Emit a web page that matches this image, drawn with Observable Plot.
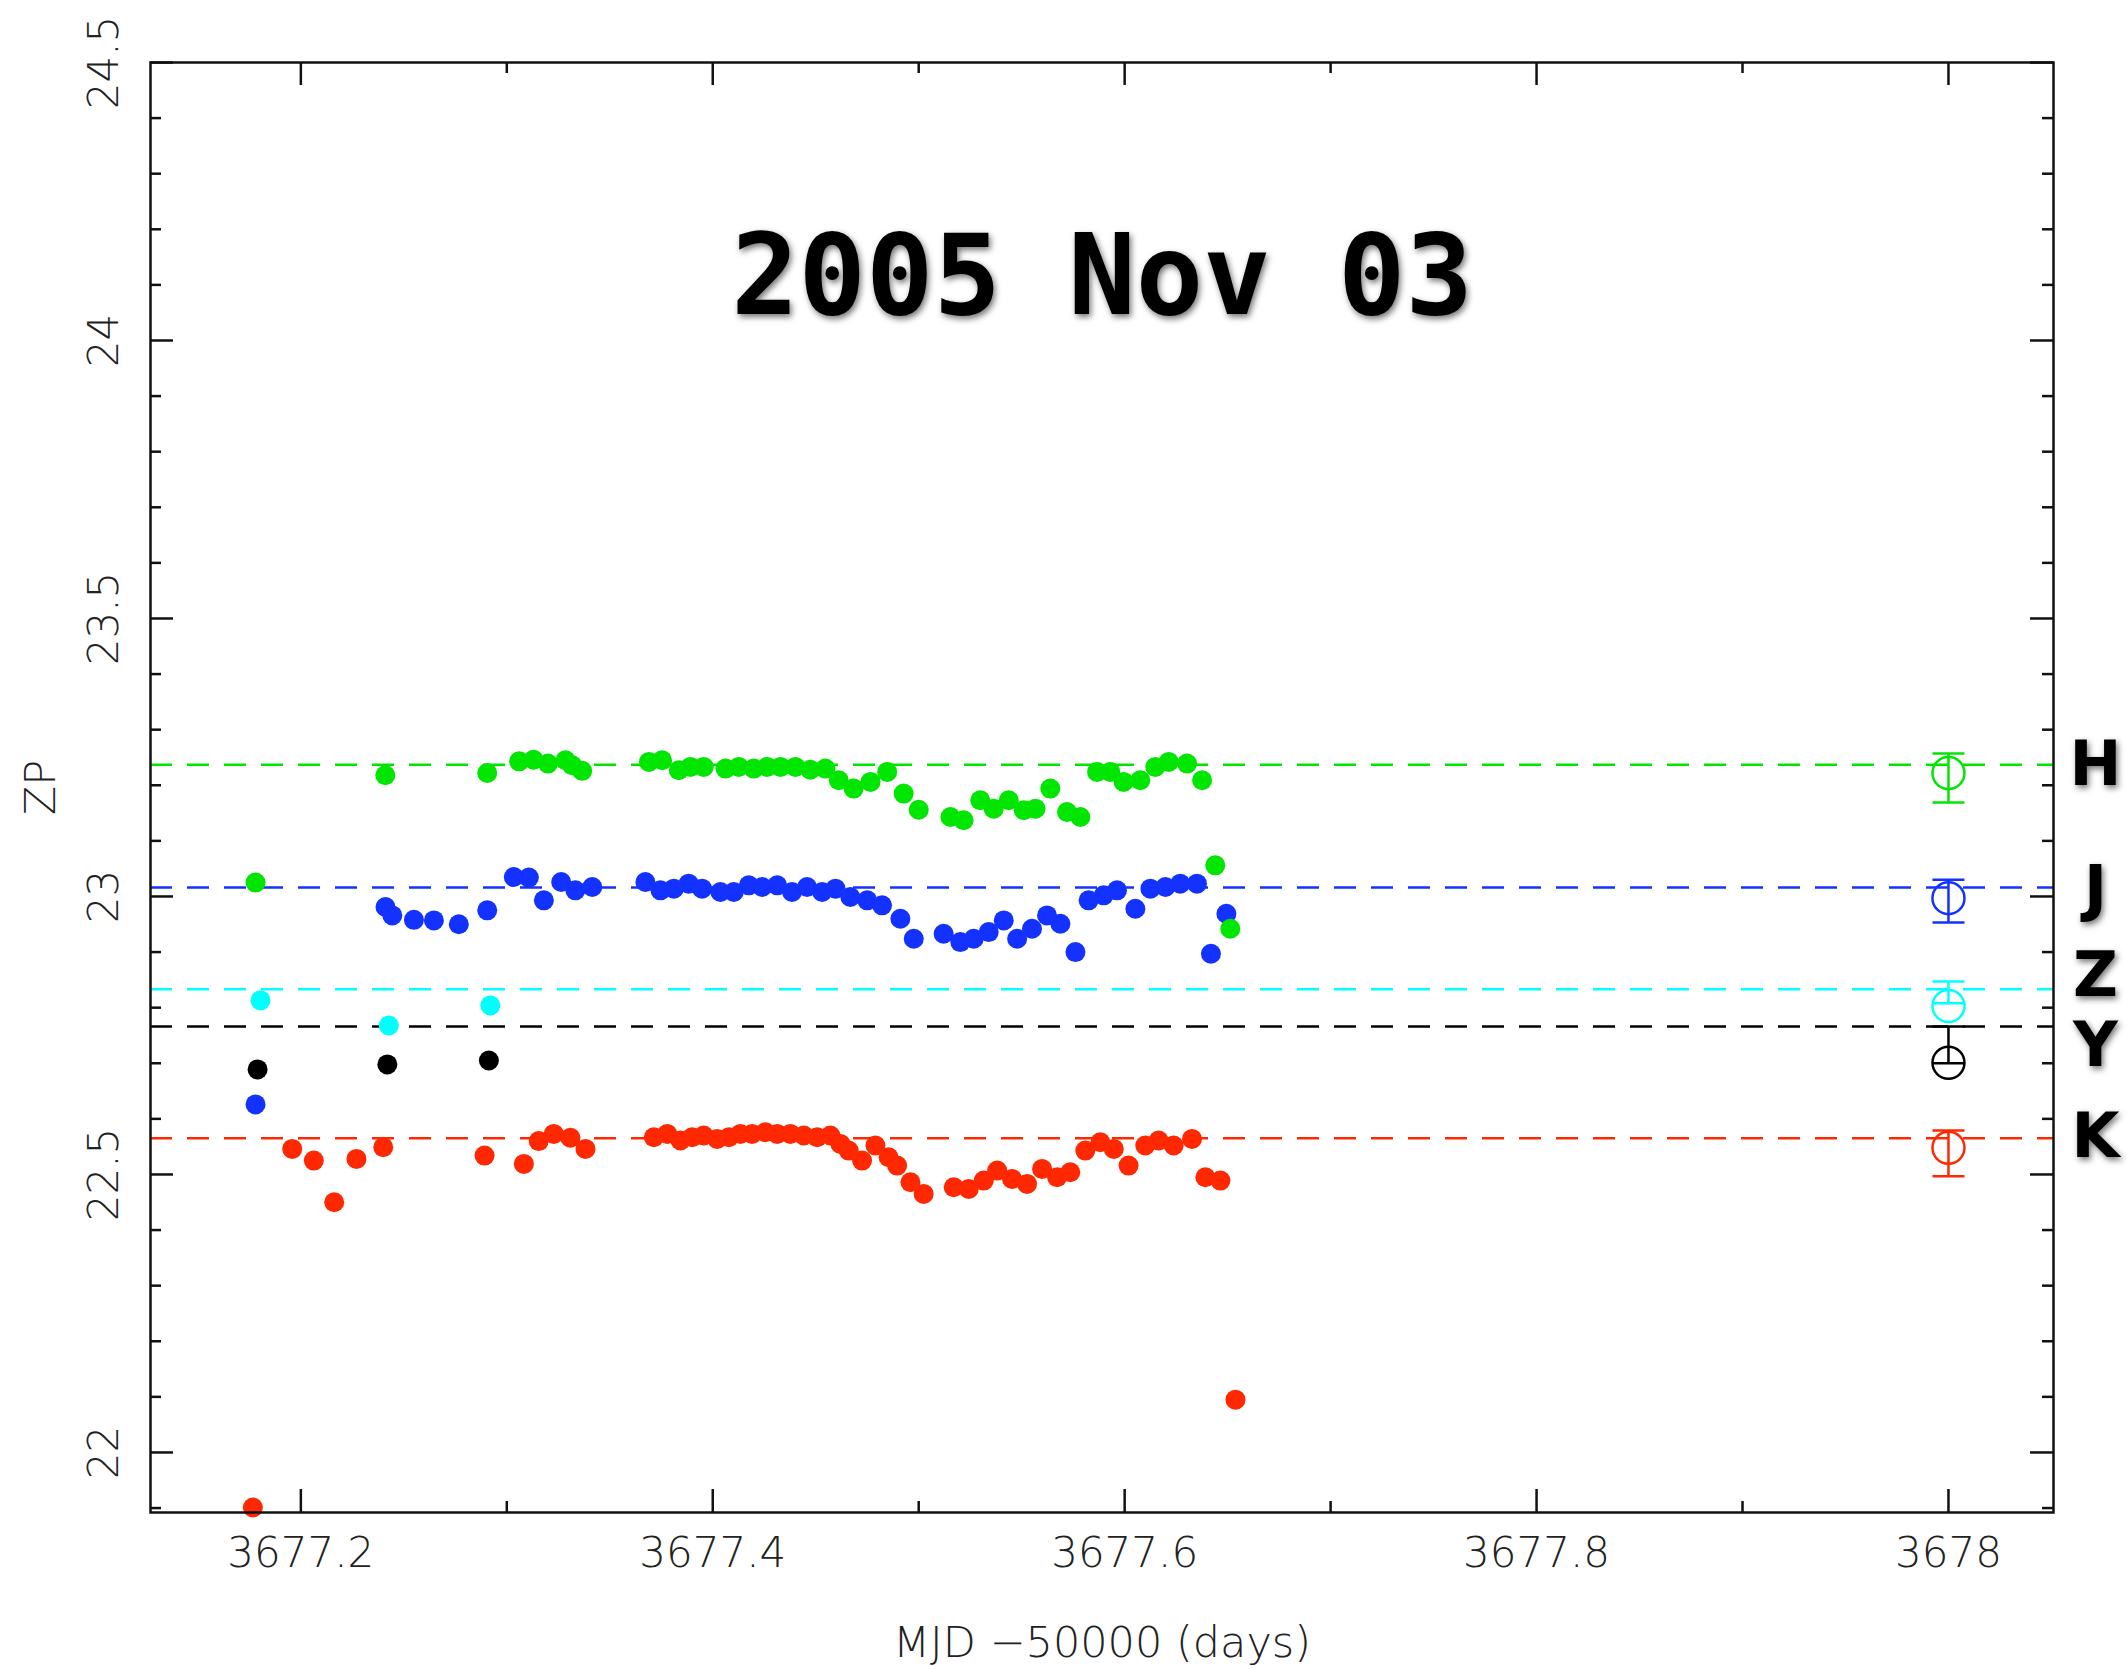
<!DOCTYPE html>
<html><head><meta charset="utf-8">
<script src="https://cdn.jsdelivr.net/npm/d3@7"></script>
<script src="https://cdn.jsdelivr.net/npm/@observablehq/plot@0.6"></script>
<style>body{margin:0;background:#fff;} svg{display:block;}</style>
</head><body><div id="chart"></div>
<script>
// ---------- data ----------
const title = "2005 Nov 03";
const xLabel = "MJD \u221250000 (days)";
const yLabel = "ZP";
const xDomain = [3677.127, 3678.051];
const yDomain = [21.892, 24.5];
const xMajorTicks = [3677.2, 3677.4, 3677.6, 3677.8, 3678];
const xMinorTicks = [3677.3, 3677.5, 3677.7, 3677.9];
const yMajorTicks = [22, 22.5, 23, 23.5, 24, 24.5];
const yMinorTicks = [21.9, 22.1, 22.2, 22.3, 22.4, 22.6, 22.7, 22.8, 22.9, 23.1, 23.2, 23.3, 23.4,
                     23.6, 23.7, 23.8, 23.9, 24.1, 24.2, 24.3, 24.4];

const bands = ["H", "J", "Z", "Y", "K"];
const bandColors = ["#00e600", "#1432ff", "#00ffff", "#000000", "#ff2800"];
const nightZP = [23.237, 23.016, 22.833, 22.766, 22.565];   // dashed reference lines
const summaryMJD = 3678;
const meanZP = [23.222, 22.997, 22.803, 22.701, 22.548];
const errLowZP = [23.169, 22.953, 22.808, 22.700, 22.497];
const errHighZP = [23.257, 23.030, 22.847, 22.766, 22.579];
const labelZP = [23.237, 23.013, 22.857, 22.730, 22.568];

const hMJD = [3677.178, 3677.241, 3677.2905, 3677.306, 3677.313, 3677.320, 3677.3285, 3677.3317, 3677.3366,
  3677.369, 3677.3754, 3677.3835, 3677.3892, 3677.3956, 3677.4062, 3677.4126, 3677.4199, 3677.4264, 3677.4329,
  3677.4401, 3677.4474, 3677.4547, 3677.4612, 3677.4684, 3677.4766, 3677.4847, 3677.4927, 3677.500, 3677.5154,
  3677.5218, 3677.5299, 3677.5364, 3677.5437, 3677.551, 3677.5567, 3677.5639, 3677.572, 3677.5785, 3677.5866,
  3677.593, 3677.5995, 3677.6076, 3677.6149, 3677.6214, 3677.6303, 3677.6376, 3677.644, 3677.6513];
const hZP = [23.025, 23.218, 23.222, 23.243, 23.246, 23.239, 23.245, 23.236, 23.226,
  23.242, 23.245, 23.227, 23.233, 23.233, 23.230, 23.233, 23.230, 23.233, 23.233,
  23.233, 23.228, 23.230, 23.209, 23.194, 23.206, 23.224, 23.185, 23.156, 23.143,
  23.137, 23.173, 23.158, 23.173, 23.155, 23.158, 23.194, 23.152, 23.143, 23.224,
  23.224, 23.206, 23.209, 23.233, 23.242, 23.239, 23.209, 23.056, 22.942];

const jMJD = [3677.178, 3677.2411, 3677.2444, 3677.2549, 3677.2646, 3677.2767, 3677.2905, 3677.3034, 3677.3107,
  3677.318, 3677.3264, 3677.3333, 3677.3415, 3677.3673, 3677.3746, 3677.3811, 3677.3883, 3677.3948, 3677.4037,
  3677.4102, 3677.4175, 3677.424, 3677.4313, 3677.4385, 3677.4458, 3677.4531, 3677.4596, 3677.4668, 3677.475,
  3677.4822, 3677.4911, 3677.4976, 3677.5121, 3677.5202, 3677.5267, 3677.534, 3677.5413, 3677.5478, 3677.555,
  3677.5623, 3677.5688, 3677.5761, 3677.5825, 3677.5898, 3677.5963, 3677.6052, 3677.6125, 3677.6198, 3677.627,
  3677.6351, 3677.6419, 3677.6494];
const jZP = [22.626, 22.981, 22.966, 22.958, 22.957, 22.950, 22.975, 23.035, 23.034,
  22.993, 23.026, 23.011, 23.017, 23.026, 23.011, 23.014, 23.023, 23.014, 23.008,
  23.008, 23.020, 23.017, 23.020, 23.008, 23.017, 23.008, 23.014, 22.999, 22.993,
  22.984, 22.960, 22.924, 22.933, 22.918, 22.924, 22.936, 22.957, 22.924, 22.942,
  22.966, 22.951, 22.900, 22.993, 23.002, 23.011, 22.978, 23.014, 23.017, 23.023,
  23.023, 22.897, 22.969];

const zMJD = [3677.1804, 3677.2427, 3677.292];
const zZP = [22.813, 22.768, 22.804];

const yMJD = [3677.179, 3677.242, 3677.2913];
const yZP = [22.689, 22.698, 22.705];

const kMJD = [3677.1767, 3677.1958, 3677.2063, 3677.2162, 3677.227, 3677.240, 3677.2892, 3677.3083, 3677.3155,
  3677.3228, 3677.3309, 3677.3382, 3677.3714, 3677.3779, 3677.3843, 3677.390, 3677.3956, 3677.4021, 3677.4078,
  3677.4134, 3677.4191, 3677.4256, 3677.4313, 3677.4377, 3677.4442, 3677.4507, 3677.4571, 3677.462, 3677.466,
  3677.4725, 3677.479, 3677.4854, 3677.4895, 3677.496, 3677.5024, 3677.517, 3677.5243, 3677.5316, 3677.5381,
  3677.5453, 3677.5526, 3677.5599, 3677.5672, 3677.5736, 3677.5809, 3677.5882, 3677.5947, 3677.6019, 3677.610,
  3677.6165, 3677.6238, 3677.6327, 3677.6392, 3677.6465, 3677.6538];
const kZP = [21.901, 22.546, 22.525, 22.450, 22.528, 22.549, 22.534, 22.519, 22.560,
  22.573, 22.566, 22.546, 22.567, 22.573, 22.561, 22.567, 22.570, 22.564, 22.567,
  22.573, 22.573, 22.576, 22.573, 22.573, 22.570, 22.567, 22.570, 22.555, 22.543,
  22.525, 22.552, 22.531, 22.516, 22.486, 22.465, 22.477, 22.474, 22.489, 22.507,
  22.492, 22.483, 22.510, 22.495, 22.504, 22.543, 22.558, 22.546, 22.516, 22.552,
  22.561, 22.552, 22.564, 22.495, 22.489, 22.095];

// ---------- tables built from the arrays ----------
const series = {H: [hMJD, hZP], J: [jMJD, jZP], Z: [zMJD, zZP], Y: [yMJD, yZP], K: [kMJD, kZP]};
const drawOrder = ["K", "Y", "Z", "J", "H"];
const points = drawOrder.flatMap(b => {
  const [xs, ys] = series[b];
  const c = bandColors[bands.indexOf(b)];
  return xs.map((x, i) => ({mjd: x, zp: ys[i], color: c}));
});
const summary = bands.map((b, i) => ({
  band: b, color: bandColors[i], line: nightZP[i], mjd: summaryMJD,
  mean: meanZP[i], lo: errLowZP[i], hi: errHighZP[i], label: labelZP[i]
}));

// ---------- chart ----------
const W = 2127, H = 1669, mL = 150, mR = 74, mT = 62, mB = 157;
const fw = W - mL - mR, fh = H - mT - mB;
const thinFont = "DejaVu Sans, sans-serif";
const boldFont = "DejaVu Sans Mono, monospace";
const labelFont = "DejaVu Sans, sans-serif";
const capSymbol = {draw(ctx, size) { const w = Math.sqrt(size / Math.PI); ctx.moveTo(-w, 0); ctx.lineTo(w, 0); }};

const chart = Plot.plot({
  width: W, height: H,
  marginLeft: mL, marginRight: mR, marginTop: mT, marginBottom: mB,
  x: {domain: xDomain, axis: null},
  y: {domain: yDomain, axis: null},
  color: {type: "identity"},
  style: {background: "white"},
  marks: [
    Plot.ruleY(summary, {y: "line", stroke: "color", strokeWidth: 2.5, strokeDasharray: "22,15"}),
    Plot.dot(points, {x: "mjd", y: "zp", fill: "color", r: 10}),
    Plot.ruleX(summary, {x: "mjd", y1: "lo", y2: "hi", stroke: "color", strokeWidth: 2.5}),
    Plot.dot(summary, {x: "mjd", y: "lo", symbol: capSymbol, r: 16, stroke: "color", fill: "none", strokeWidth: 2.5}),
    Plot.dot(summary, {x: "mjd", y: "hi", symbol: capSymbol, r: 16, stroke: "color", fill: "none", strokeWidth: 2.5}),
    Plot.dot(summary, {x: "mjd", y: "mean", r: 16, stroke: "color", fill: "none", strokeWidth: 2.5}),
    // frame and ticks (all four sides, inward)
    Plot.frame({stroke: "#111", strokeWidth: 2.5}),
    Plot.tickX(xMajorTicks, {x: d => d, insetTop: fh - 23, stroke: "#111", strokeWidth: 2.5}),
    Plot.tickX(xMajorTicks, {x: d => d, insetBottom: fh - 23, stroke: "#111", strokeWidth: 2.5}),
    Plot.tickX(xMinorTicks, {x: d => d, insetTop: fh - 11, stroke: "#111", strokeWidth: 2.5}),
    Plot.tickX(xMinorTicks, {x: d => d, insetBottom: fh - 11, stroke: "#111", strokeWidth: 2.5}),
    Plot.tickY(yMajorTicks, {y: d => d, insetRight: fw - 23, stroke: "#111", strokeWidth: 2.5}),
    Plot.tickY(yMajorTicks, {y: d => d, insetLeft: fw - 23, stroke: "#111", strokeWidth: 2.5}),
    Plot.tickY(yMinorTicks, {y: d => d, insetRight: fw - 11, stroke: "#111", strokeWidth: 2.5}),
    Plot.tickY(yMinorTicks, {y: d => d, insetLeft: fw - 11, stroke: "#111", strokeWidth: 2.5}),
    // tick labels
    Plot.text(xMajorTicks, {x: d => d, text: d => String(d), frameAnchor: "bottom", textAnchor: "middle",
      lineAnchor: "middle", dy: 41, fontSize: 42, fontFamily: thinFont, fontWeight: 300, fill: "#222"}),
    Plot.text(yMajorTicks, {y: d => d, text: d => String(d), frameAnchor: "left", textAnchor: "middle",
      lineAnchor: "middle", dx: -46, rotate: -90, fontSize: 42, fontFamily: thinFont, fontWeight: 300, fill: "#222"}),
    // axis titles
    Plot.text([xLabel], {frameAnchor: "bottom", textAnchor: "middle", lineAnchor: "middle", dy: 131, fontSize: 43,
      fontFamily: thinFont, fontWeight: 300, fill: "#222"}),
    Plot.text([yLabel], {frameAnchor: "left", textAnchor: "middle", lineAnchor: "middle", dx: -109, rotate: -90,
      fontSize: 43, fontFamily: thinFont, fontWeight: 300, fill: "#222"}),
    // title and band labels
    Plot.text([title], {frameAnchor: "top", textAnchor: "middle", lineAnchor: "middle", dy: 216, fontSize: 112,
      fontFamily: boldFont, fontWeight: "bold", fill: "black"}),
    Plot.text(summary, {y: "label", text: "band", frameAnchor: "right", textAnchor: "middle", lineAnchor: "middle",
      dx: 42, fontSize: 62, fontFamily: labelFont, fontWeight: "bold", fill: "black"})
  ]
});

d3.select(chart).selectAll("text")
  .filter(function() { return this.textContent === title || bands.includes(this.textContent); })
  .style("filter", "drop-shadow(2px 3px 3px rgba(0,0,0,0.55))");

document.getElementById("chart").appendChild(chart);
</script>
</body></html>
